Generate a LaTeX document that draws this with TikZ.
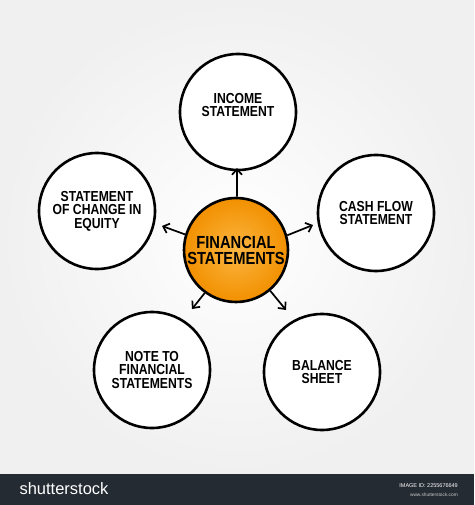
\documentclass[tikz,border=0pt]{standalone}
\usepackage{fontspec}
\setmainfont{Liberation Sans}
\newfontfamily\hand[FakeStretch=0.84]{Liberation Sans Bold}
\usetikzlibrary{arrows.meta}
\definecolor{barcol}{HTML}{252B33}
\definecolor{orin}{HTML}{FBB642}
\definecolor{orout}{HTML}{F29000}
\definecolor{bgout}{HTML}{F0F0F0}
\tikzset{
  circ/.style={circle, draw=black, line width=2.6pt, fill=white, minimum size=116pt, inner sep=0pt,
    font=\hand\fontsize{14.5}{13.5}\selectfont, align=center},
  hub/.style={circle, draw=black, line width=2.6pt, minimum size=104pt, inner sep=0pt,
    shade, inner color=orin, outer color=orout,
    font=\hand\fontsize{17.5}{16}\selectfont, align=center},
  arr/.style={line width=1.7pt, -{Straight Barb[length=5.5pt,width=10pt,line width=1.7pt]}},
}
\begin{document}
\begin{tikzpicture}[x=1pt,y=-1pt]
\useasboundingbox (0,0) rectangle (474,505);
\shade[inner color=white, outer color=bgout] (0,0) rectangle (474,474);
\fill[barcol] (0,474) rectangle (474,505);
\node[anchor=base west, text=white, font=\fontsize{16.5}{16}\selectfont] (logo) at (16,494) {shutterstock};
\node[anchor=base east, text=white, font=\fontsize{5.5}{6}\selectfont, inner sep=0pt] (imgid) at (458,487) {IMAGE ID: 2255676649};
\node[anchor=base east, text=white!75!barcol, font=\fontsize{4.8}{6}\selectfont, inner sep=0pt] (www) at (458,496) {www.shutterstock.com};

\node[circ] (inc) at (238,112) {INCOME\\STATEMENT\\[1pt]};
\node[circ] (eq) at (97,211) {STATEMENT\\OF CHANGE IN\\EQUITY};
\node[circ] (cf) at (376,213) {CASH FLOW\\STATEMENT};
\node[circ] (note) at (152,370) {NOTE TO\\FINANCIAL\\STATEMENTS};
\node[circ] (bal) at (322,372) {BALANCE\\SHEET};
\node[hub] (fs) at (236,250) {FINANCIAL\\STATEMENTS};

\coordinate (tinc) at (237,168);
\coordinate (teq) at (162,226);
\coordinate (tcf) at (313,225);
\coordinate (tnote) at (192,309);
\coordinate (tbal) at (286,310);
\draw[arr] (fs.89) -- (tinc);
\draw[arr] (fs.163) -- (teq);
\draw[arr] (fs.16) -- (tcf);
\draw[arr] (fs.-126) -- (tnote);
\draw[arr] (fs.-50) -- (tbal);
\end{tikzpicture}
\end{document}
